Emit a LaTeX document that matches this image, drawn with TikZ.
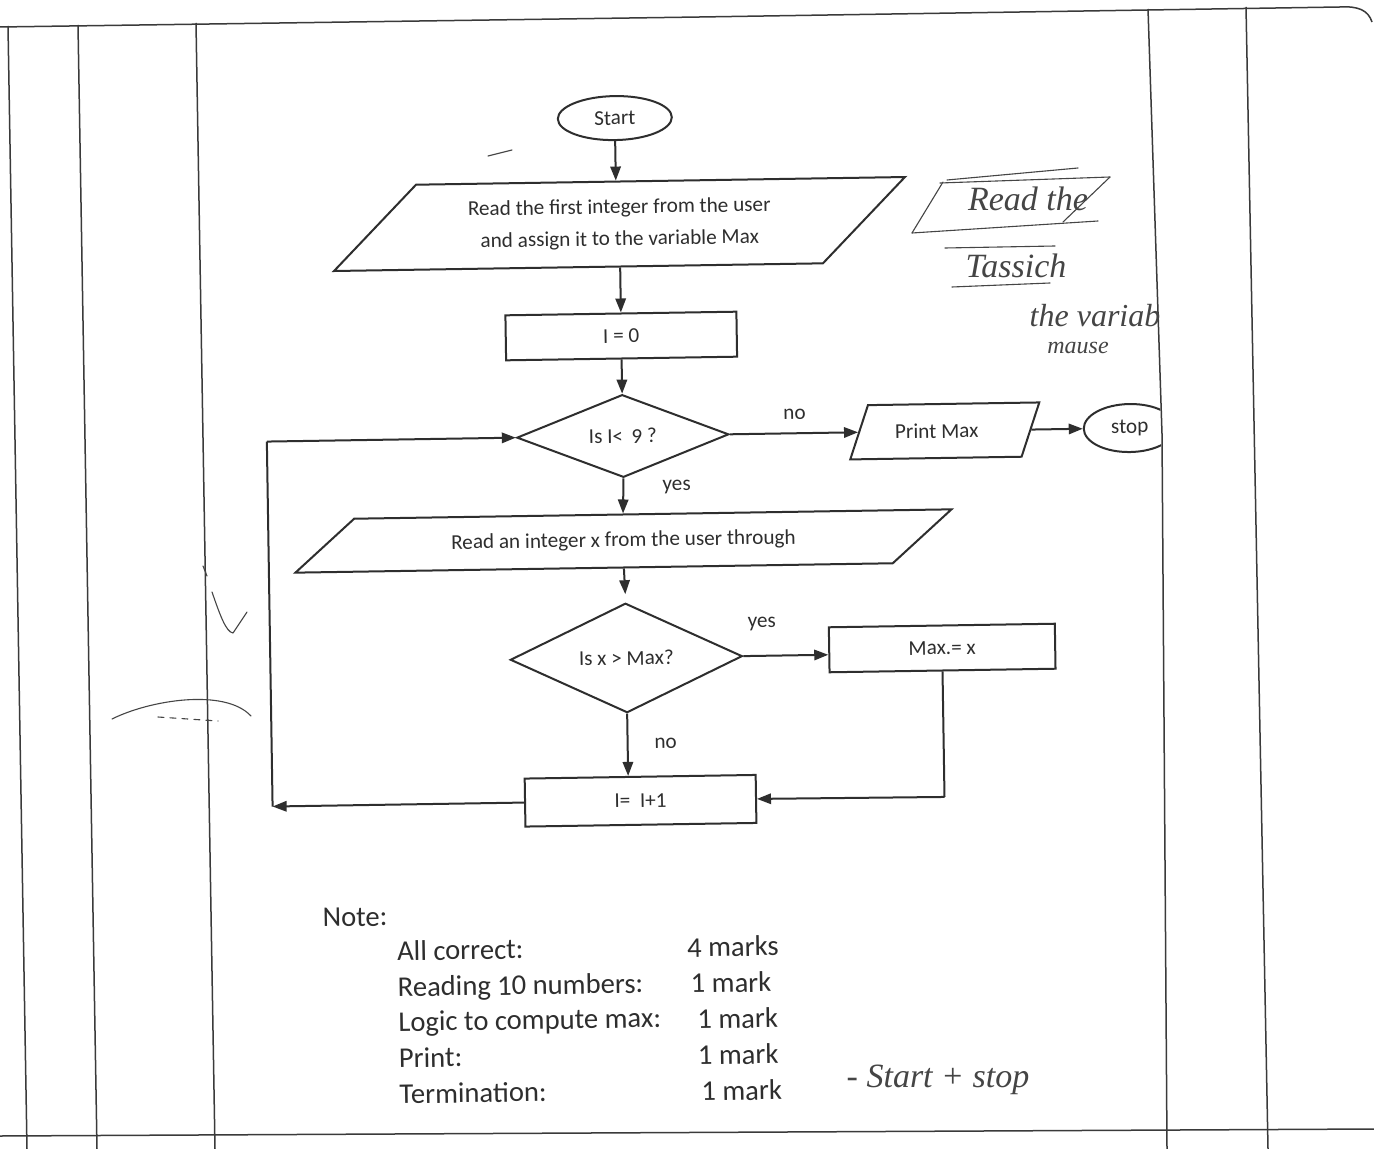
\documentclass[tikz,border=0pt]{standalone}
\usepackage{fontspec}
\setmainfont{Carlito}
\newfontfamily\handfont{Liberation Serif}
\usetikzlibrary{shapes.geometric,arrows.meta,calc}
\definecolor{ink}{HTML}{2E2E2E}
\definecolor{pen}{HTML}{454545}
\definecolor{rule}{HTML}{3A3A3A}
\begin{document}
\begin{tikzpicture}[x=0.5pt,y=-0.5pt,
  flow/.style={font=\fontsize{10.6}{16}\selectfont, text=ink, inner sep=0pt},
  shp/.style={flow, draw=ink, line width=1pt},
  boxnode/.style={shp, rectangle},
  termnode/.style={shp, ellipse},
  decnode/.style={shp, diamond},
  ionode/.style={shp, trapezium, trapezium stretches=true},
  lbl/.style={flow},
  arr/.style={draw=ink, line width=1pt, -{Triangle[length=7pt,width=5.2pt]}},
  ln/.style={draw=ink, line width=1pt},
  note/.style={font=\fontsize{14.3}{17}\selectfont, text=ink, inner sep=0pt, anchor=base west},
  pagerule/.style={draw=rule, line width=0.75pt},
  hand/.style={font=\handfont\itshape\fontsize{17}{19}\selectfont, text=pen, inner sep=0pt},
  handline/.style={draw=pen, line width=0.55pt, line cap=round, line join=round}
]
\useasboundingbox (0,0) rectangle (1374,1149);
\fill[white] (0,0) rectangle (1374,1149);

% ---- page rules ----
\draw[pagerule] (0,27) -- (700,17) -- (1340,7) .. controls (1358,6) and (1368,10) .. (1372,22);
\draw[pagerule] (8,26) -- (27,1149);
\draw[pagerule] (78,25) -- (97,1149);
\draw[pagerule] (196,23) -- (215,1149);
\draw[pagerule] (1148,9) -- (1162,434) -- (1167,1149);
\draw[pagerule] (1246,7) -- (1268,1149);
\draw[pagerule] (0,1136) -- (1374,1129);

% ---- flowchart ----
\begin{scope}
\clip (0,0) -- (1147,0) -- (1147,9) -- (1161,434) -- (1166,1149) -- (0,1149) -- cycle;
\begin{scope}[rotate around={0.9:(687,575)}, transform shape]
  \node[termnode, minimum width=57pt, minimum height=22pt] (start) at (622,117) {Start};
  \node[ionode, minimum width=287pt, minimum height=42.5pt,
        trapezium left angle=39, trapezium right angle=141, align=center] (p1) at (625,223)
        {Read the first integer from the user\\and assign it to the variable Max};
  \node[boxnode, minimum width=115.5pt, minimum height=22.5pt] (i0) at (625,335) {I = 0};
  \node[decnode, minimum width=106pt, minimum height=38pt] (d1) at (625,435) {Is I<\ \,9 ?};
  \node[ionode, minimum width=95pt, minimum height=27pt,
        trapezium left angle=61, trapezium right angle=119] (pm) at (947,435) {\hspace*{-8pt}Print Max};
  \node[termnode, minimum width=46pt, minimum height=24pt] (stop) at (1132,435) {stop};
  \node[ionode, minimum width=329pt, minimum height=26.5pt,
        trapezium left angle=25.7, trapezium right angle=154.3] (p2) at (624,540)
        {Read an integer x from the user through};
  \node[decnode, minimum width=116pt, minimum height=39pt] (d2) at (625,657) {Is x > Max?};
  \node[boxnode, minimum width=113pt, minimum height=22.5pt] (mx) at (941,652) {Max.= x};
  \node[boxnode, minimum width=115.5pt, minimum height=24pt] (inc) at (637,800) {I=\ \ I+1};

  \coordinate (mc) at (941,801);
  \coordinate (lc1) at (269,800);
  \coordinate (lc2) at (269,435);

  \draw[arr] (start.south) -- (start.south |- p1.north);
  \draw[arr] (p1.south) -- (i0.north);
  \draw[arr] (i0.south) -- (d1.north);
  \draw[arr] (d1.east) -- (pm.left side);
  \draw[arr] (pm.right side) -- (stop.west);
  \draw[arr] (d1.south) -- (p2.north);
  \draw[arr] (p2.south) -- ([yshift=4pt]d2.north);
  \draw[arr] (d2.east) -- (d2.east -| mx.west);
  \draw[arr] (d2.south) -- (d2.south |- inc.north);
  \draw[ln] (mx.south) -- (mc);
  \draw[arr] (mc) -- (inc.east);
  \draw[arr] (inc.west) -- (lc1);
  \draw[ln] (lc1) -- (lc2);
  \draw[arr] (lc2) -- (d1.west);

  \node[lbl] (lno1) at (797,416) {no};
  \node[lbl] (lyes1) at (678,487) {yes};
  \node[lbl] (lyes2) at (761,625) {yes};
  \node[lbl] (lno2) at (663,743) {no};

  % ---- note ----
  \node[note] (nt) at (317,921) {Note:};
  \node[note] (n1) at (391,956) {All correct:};
  \node[note] (n2) at (391,992) {Reading 10 numbers:};
  \node[note] (n3) at (391,1027) {Logic to compute max:};
  \node[note] (n4) at (391,1063) {Print:};
  \node[note] (n5) at (391,1099) {Termination:};
  \node[note] (m1) at (681,957) {4 marks};
  \node[note] (m2) at (684,993) {1 mark};
  \node[note] (m3) at (690,1029) {1 mark};
  \node[note] (m4) at (690,1065) {1 mark};
  \node[note] (m5) at (693,1101) {1 mark};
\end{scope}
\end{scope}

% ---- handwritten annotations ----
\draw[handline] (947,180) -- (1078,168);
\draw[handline] (940,183) -- (1110,177);
\draw[handline] (943,182) -- (912,233);
\draw[handline] (912,233) -- (1098,221);
\draw[handline] (1110,177) -- (1063,222);
\node[hand] (h1) at (1028,199) {Read the};
\draw[handline] (945,248) -- (1055,246);
\node[hand] (h2) at (1016,266) {Tassich};
\draw[handline] (952,287) -- (1050,283);
\node[hand, font=\handfont\itshape\fontsize{16}{18}\selectfont] (h3) at (1095,316) {the variab};
\node[hand, font=\handfont\itshape\fontsize{12}{14}\selectfont] (h4) at (1078,348) {mause};
\node[hand] (h5) at (938,1080) {- Start + stop};

% stray pen marks
\draw[handline] (203,566) -- (207,576);
\draw[handline] (212,592) .. controls (220,615) and (226,632) .. (233,633) -- (247,612);
\draw[handline] (112,719) .. controls (150,700) and (225,688) .. (251,716);
\draw[handline, dashed] (158,717) -- (218,721);
\draw[handline] (488,156) -- (512,150);
\end{tikzpicture}
\end{document}
